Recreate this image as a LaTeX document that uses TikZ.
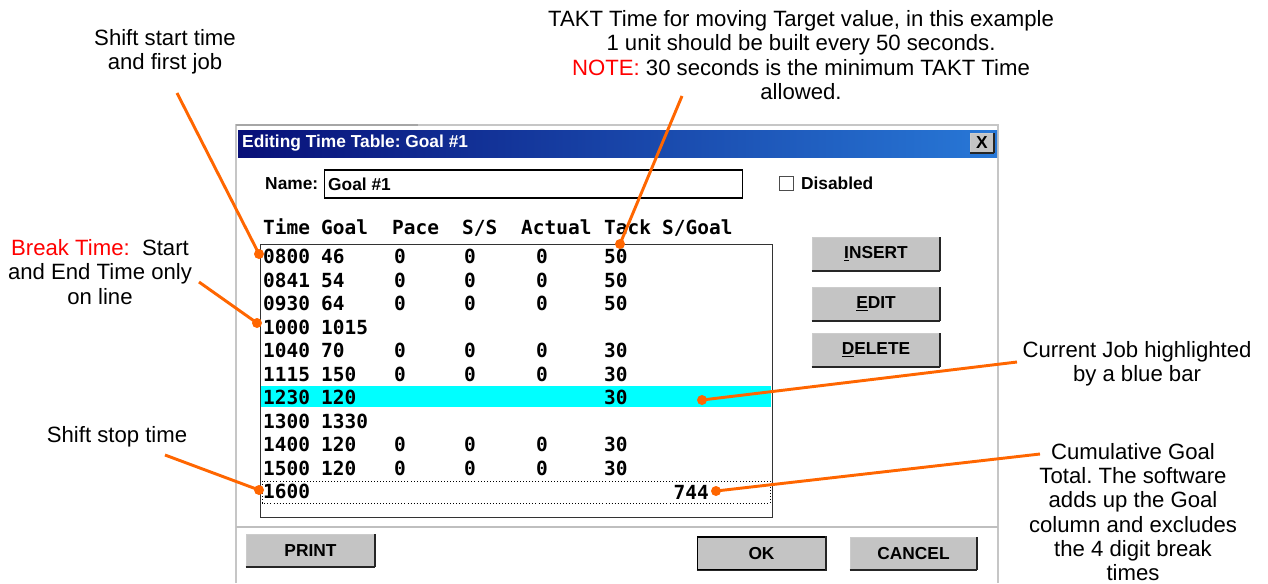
\documentclass[tikz,border=0pt]{standalone}
\usepackage{fontspec}
\setmainfont{Liberation Sans}
\newfontfamily\tablefont{DejaVu Sans Mono}
\usetikzlibrary{positioning, calc}
\definecolor{callout}{RGB}{255,102,0}
\definecolor{titleleft}{RGB}{8,16,120}
\definecolor{titleright}{RGB}{40,120,215}
\definecolor{btngray}{RGB}{196,196,196}
\definecolor{hilite}{RGB}{0,255,255}
\tikzstyle{note} = [align=center, inner sep=0pt, font=\fontsize{18.9}{20.8}\selectfont]
\tikzstyle{cell} = [anchor=base west, inner sep=0pt, font=\tablefont\bfseries\fontsize{16.6}{18}\selectfont]
\tikzstyle{dlgtext} = [inner sep=0pt, font=\bfseries\fontsize{14.8}{16}\selectfont]
\tikzstyle{btnedge} = [draw=black!85, line width=1.6pt]
\tikzstyle{winbtn} = [fill=btngray, draw=gray!40, line width=0.6pt, minimum width=3.84cm,
    minimum height=0.98cm, inner sep=0pt, font=\bfseries\fontsize{14.8}{16}\selectfont,
    append after command={(\tikzlastnode.south west) edge[btnedge] (\tikzlastnode.south east)
        (\tikzlastnode.south east) edge[btnedge] (\tikzlastnode.north east)}]
\tikzstyle{dot} = [circle, fill=callout, inner sep=0pt, minimum size=0.3cm]
\tikzstyle{callline} = [draw=callout, line width=2.5pt]

\begin{document}
\frenchspacing
\begin{tikzpicture}[x=0.03cm, y=-0.03cm]
    \useasboundingbox (0,0) rectangle (1268,583);
    \fill[white] (0,0) rectangle (1268,583);

    % Dialog frame
    \draw[gray!45, line width=1pt] (236,583) -- (236,125) -- (998,125) -- (998,583);
    \draw[gray!70, line width=2pt] (236,125) -- (418,125);
    \shade[left color=titleleft, middle color=titleleft!80!titleright, right color=titleright] (238,130) rectangle (997,157);
    \node[dlgtext, white, anchor=west] (title) at (242,143.5) {Editing Time Table: Goal \#1};
    \node[winbtn, minimum width=0.69cm, minimum height=0.6cm, btnedge/.style={draw=black!85, line width=1pt}] (close) at (982,143) {X};
    \draw[gray!50, line width=1pt] (236,527) -- (998,527);

    % Name field and check box
    \node[dlgtext, anchor=west] (namelbl) at (265,184) {Name:};
    \node[draw=black, line width=0.9pt, minimum width=12.54cm, minimum height=0.84cm, anchor=west] (namebox) at (324,184) {};
    \node[dlgtext, anchor=west] (nameval) at ([xshift=0.12cm]namebox.west) {Goal \#1};
    \node[draw=gray!60!black, line width=0.8pt, minimum size=0.42cm, inner sep=0pt] (chk) at (786,183) {};
    \node[dlgtext, right=0.22cm of chk] (disabled) {Disabled};

    % Time table list
    \node[draw=black!80, line width=0.9pt, minimum width=15.36cm, minimum height=8.19cm, inner sep=0pt, anchor=north west] (list) at (260,244) {};
    \fill[hilite] (261,386) rectangle (771,407);
    \draw[dotted, line width=0.6pt] (262,481) rectangle (770,503);
    \foreach \h/\x [count=\j] in {Time/263, Goal/321, Pace/392, {S/S}/462, Actual/521, Tack/604, {S/Goal}/662}
        \node[cell] (head\j) at (\x,234) {\h};
    \foreach \t/\g/\p/\s/\a/\k [count=\i] in {0800/46/0/0/0/50, 0841/54/0/0/0/50, 0930/64/0/0/0/50,
        1000/1015/{}/{}/{}/{}, 1040/70/0/0/0/30, 1115/150/0/0/0/30, 1230/120/{}/{}/{}/30,
        1300/1330/{}/{}/{}/{}, 1400/120/0/0/0/30, 1500/120/0/0/0/30, 1600/{}/{}/{}/{}/{}}{
        \pgfmathsetmacro\yb{263.6+23.5*(\i-1)}
        \node[cell] (time\i) at (263,\yb) {\t};
        \node[cell] (goal\i) at (321,\yb) {\g};
        \node[cell] (pace\i) at (394,\yb) {\p};
        \node[cell] (ss\i) at (464,\yb) {\s};
        \node[cell] (act\i) at (536,\yb) {\a};
        \node[cell] (tack\i) at (604,\yb) {\k};
    }
    \node[cell, anchor=base east] (total) at (709,499) {744};

    % Buttons
    \node[winbtn] (insert) at (876,254) {\underline{I}NSERT};
    \node[winbtn] (edit) at (876,304) {\underline{E}DIT};
    \node[winbtn] (delete) at (876,350) {\underline{D}ELETE};
    \node[winbtn, minimum width=3.87cm] (print) at (310.5,550.5) {PRINT};
    \node[winbtn, draw=black, line width=1.2pt] (ok) at (761.5,553.5) {OK};
    \node[winbtn, minimum width=3.81cm] (cancel) at (913.5,553.5) {CANCEL};

    % Notes
    \node[note] (startnote) at (165,52) {Shift start time\\and first job};
    \node[note] (breaknote) at (100,272) {\textcolor{red}{Break Time:}\ \ Start\\and End Time only\\on line};
    \node[note] (stopnote) at (117,437) {Shift stop time};
    \node[note] (taktnote) at (801,55) {TAKT Time for moving Target value, in this example\\1 unit should be built every 50 seconds.\\\textcolor{red}{NOTE:} 30 seconds is the minimum TAKT Time\\allowed.};
    \node[note] (curnote) at (1137,364) {Current Job highlighted\\by a blue bar};
    \node[note] (cumnote) at (1133,512) {Cumulative Goal\\Total. The software\\adds up the Goal\\column and excludes\\the 4 digit break\\times};

    % Call-out lines
    \coordinate (startend) at (177,93);
    \coordinate (breakend) at (199,282);
    \coordinate (stopend) at (165,455);
    \coordinate (taktend) at (682,96);
    \coordinate (curend) at (1017,362);
    \coordinate (cumend) at (1040,454);
    \node[dot] (startdot) at (259,254) {};
    \node[dot] (breakdot) at (257,323) {};
    \node[dot] (stopdot) at (259,490) {};
    \node[dot] (taktdot) at (620,244) {};
    \node[dot] (curdot) at (702,400) {};
    \node[dot] (cumdot) at (716,491) {};
    \draw[callline] (startend) -- (startdot.center);
    \draw[callline] (breakend) -- (breakdot.center);
    \draw[callline] (stopend) -- (stopdot.center);
    \draw[callline] (taktend) -- (taktdot.center);
    \draw[callline] (curend) -- (curdot.center);
    \draw[callline] (cumend) -- (cumdot.center);
\end{tikzpicture}
\end{document}
